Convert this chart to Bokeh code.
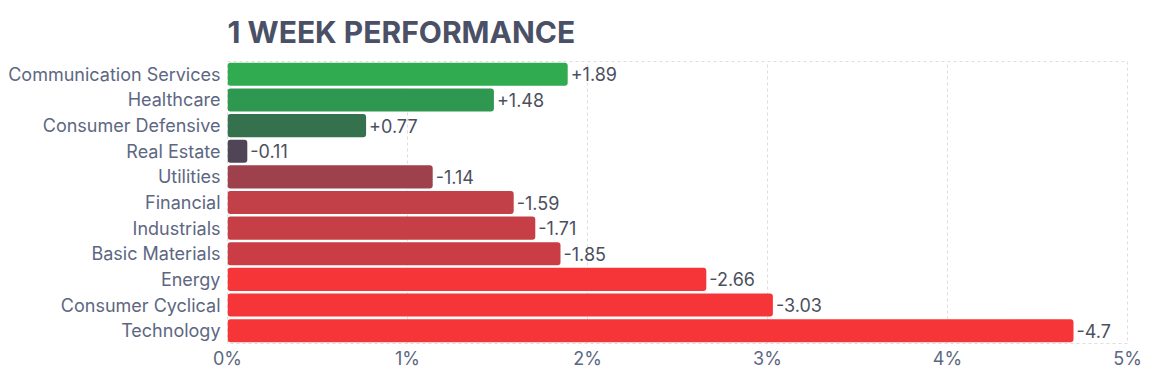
from bokeh.plotting import figure
from bokeh.models import ColumnDataSource, Range1d, FactorRange, PrintfTickFormatter, FixedTicker
from bokeh.core.properties import value
from bokeh.embed import file_html
from bokeh.resources import INLINE

title_text = "1 WEEK PERFORMANCE"
sectors = ["Communication Services", "Healthcare", "Consumer Defensive", "Real Estate",
           "Utilities", "Financial", "Industrials", "Basic Materials", "Energy",
           "Consumer Cyclical", "Technology"]
changes = [1.89, 1.48, 0.77, -0.11, -1.14, -1.59, -1.71, -1.85, -2.66, -3.03, -4.7]
colors = ["#30ab50", "#2f9850", "#36714e", "#4f4556", "#9e414c", "#c24047",
          "#c63f46", "#cb3d44", "#f63538", "#f63538", "#f63538"]
labels = [("+%g" % v) if v > 0 else ("%g" % v) for v in changes]
x_ticks = [0, 1, 2, 3, 4, 5]

src = ColumnDataSource(dict(sector=sectors, size=[abs(v) for v in changes],
                            color=colors, label=labels))

p = figure(width=1151, height=375, output_backend="svg", toolbar_location=None,
           y_range=FactorRange(*reversed(sectors)), x_range=Range1d(0, 5),
           title=title_text,
           min_border_left=227, min_border_right=24, min_border_top=0, min_border_bottom=32)

p.title.text_font = "Inter"
p.title.text_font_size = "30px"
p.title.text_font_style = "bold"
p.title.text_color = "#4a5066"
p.title.standoff = 23
p.title.offset = 0

p.hbar(y="sector", left=0, right="size", height=0.9, fill_color="color",
       line_color=None, source=src, border_radius=3)
p.text(x="size", y="sector", text="label", source=src, x_offset=3,
       text_baseline="middle", text_align="left", text_font=value("Inter"),
       text_font_size="18px", text_color="#4b4f5e")

p.xaxis.ticker = FixedTicker(ticks=x_ticks)
p.xaxis.formatter = PrintfTickFormatter(format="%d%%")
for ax in (p.xaxis, p.yaxis):
    ax.axis_line_color = None
    ax.major_tick_line_color = None
    ax.minor_tick_line_color = None
    ax.major_tick_out = 0
    ax.major_tick_in = 0
    ax.minor_tick_out = 0
    ax.major_label_text_font = "Inter"
    ax.major_label_text_font_size = "18px"
    ax.major_label_text_color = "#5d6782"
p.xaxis.major_label_standoff = 4
p.yaxis.major_label_standoff = 7

p.xgrid.grid_line_color = "#dddddd"
p.xgrid.grid_line_dash = "3 3"
p.ygrid.grid_line_color = None
p.outline_line_color = "#dddddd"
p.outline_line_dash = "3 3"

open("out.html", "w").write(file_html(p, INLINE))
